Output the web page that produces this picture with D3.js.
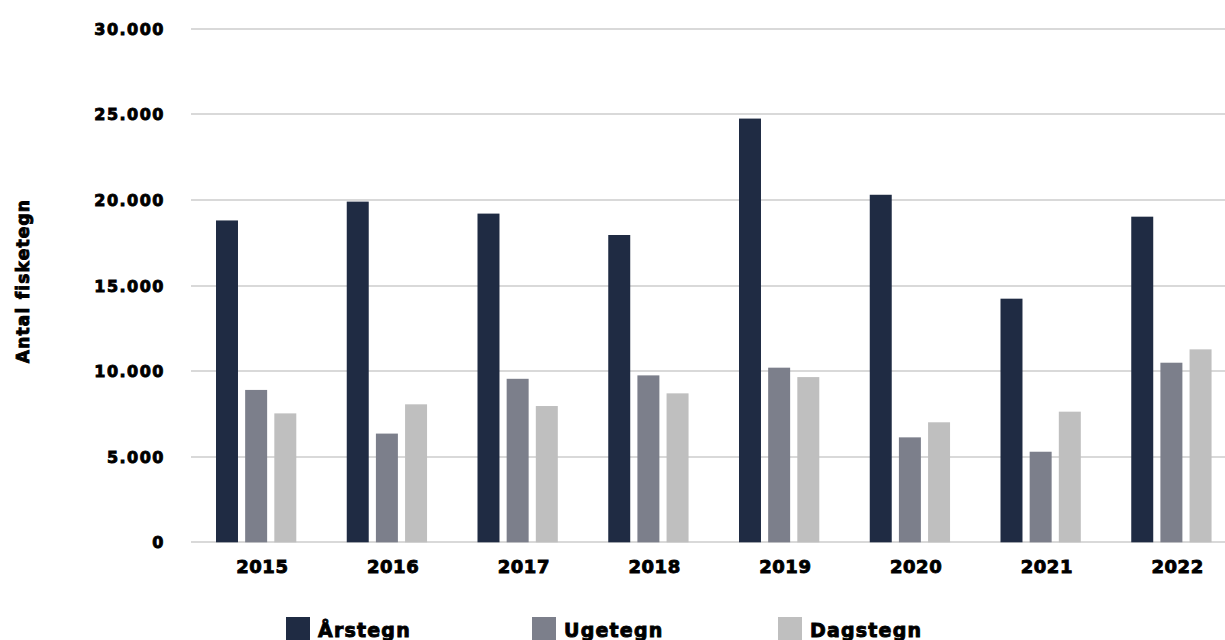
<!DOCTYPE html>
<meta charset="utf-8">
<style>
body { margin: 0; background: #fff; }
text { font-family: "DejaVu Sans", sans-serif; font-weight: bold; fill: #000; stroke: #000; stroke-width: 0.9px; }
.grid line { stroke: #d9d9d9; stroke-width: 2; shape-rendering: crispEdges; }
</style>
<body>
<script src="https://d3js.org/d3.v7.min.js"></script>
<script>

// data
var years = ["2015", "2016", "2017", "2018", "2019", "2020", "2021", "2022"];
var series = ["Årstegn", "Ugetegn", "Dagstegn"];
var aarstegn = [18800, 19900, 19200, 17950, 24750, 20300, 14230, 19020];
var ugetegn  = [8900, 6350, 9550, 9750, 10200, 6130, 5290, 10490];
var dagstegn = [7530, 8060, 7960, 8700, 9650, 7010, 7630, 11270];
var yTicks = [0, 5000, 10000, 15000, 20000, 25000, 30000];
var colors = ["#1f2b43", "#7c7f8b", "#bfbfbf"];

var values = [aarstegn, ugetegn, dagstegn];
var rows = years.map(function(y, i) {
    return { year: y, vals: series.map(function(s, j) { return { key: s, value: values[j][i] }; }) };
});

var W = 1225, H = 640;
var svg = d3.select("body").append("svg")
    .attr("width", W)
    .attr("height", H);

// scales
var x0 = d3.scaleBand().domain(years).range([192, 1238]);
var x1 = d3.scaleBand().domain(series).range([0, 80.3]).paddingInner(0.246).paddingOuter(0);
var y = d3.scaleLinear().domain([0, 30000]).range([542.3, 28.7]);
var color = d3.scaleOrdinal().domain(series).range(colors);
var fmt = function(d) { return d3.format(",")(d).replace(/,/g, "."); };

// grid lines
svg.append("g").attr("class", "grid")
  .selectAll("line")
  .data(yTicks)
  .enter().append("line")
    .attr("x1", 191)
    .attr("x2", W)
    .attr("y1", function(d) { return Math.round(y(d)); })
    .attr("y2", function(d) { return Math.round(y(d)); });

// y tick labels
svg.append("g")
  .selectAll("text")
  .data(yTicks)
  .enter().append("text")
    .attr("x", 165)
    .attr("y", function(d) { return y(d) + 6; })
    .attr("text-anchor", "end")
    .attr("font-size", "16px")
    .attr("letter-spacing", "1.5px")
    .text(fmt);

// y axis label
svg.append("text")
    .attr("transform", "translate(29,281) rotate(-90)")
    .attr("text-anchor", "middle")
    .attr("font-size", "17px")
    .attr("letter-spacing", "1.2px")
    .text("Antal fisketegn");

// bars
var groups = svg.append("g")
  .selectAll("g")
  .data(rows)
  .enter().append("g")
    .attr("transform", function(d) { return "translate(" + (x0(d.year) + 24) + ",0)"; });

groups.selectAll("rect")
    .data(function(d) { return d.vals; })
    .enter().append("rect")
      .attr("x", function(d) { return x1(d.key); })
      .attr("width", x1.bandwidth())
      .attr("y", function(d) { return y(d.value); })
      .attr("height", function(d) { return y(0) - y(d.value); })
      .attr("fill", function(d) { return color(d.key); });

// x labels
svg.append("g")
  .selectAll("text")
  .data(years)
  .enter().append("text")
    .attr("x", function(d) { return x0(d) + x0.bandwidth() / 2 + 5; })
    .attr("y", 573)
    .attr("text-anchor", "middle")
    .attr("font-size", "18px")
    .attr("letter-spacing", "0.5px")
    .text(function(d) { return d; });

// legend
var legend = svg.append("g")
  .selectAll("g")
  .data(series)
  .enter().append("g")
    .attr("transform", function(d, i) { return "translate(" + (286 + i * 246) + ",617)"; });

legend.append("rect")
    .attr("width", 24)
    .attr("height", 24)
    .attr("fill", function(d) { return color(d); });

legend.append("text")
    .attr("x", 32)
    .attr("y", 20)
    .attr("font-size", "19px")
    .attr("letter-spacing", "1.2px")
    .text(function(d) { return d; });

</script>
</body>
